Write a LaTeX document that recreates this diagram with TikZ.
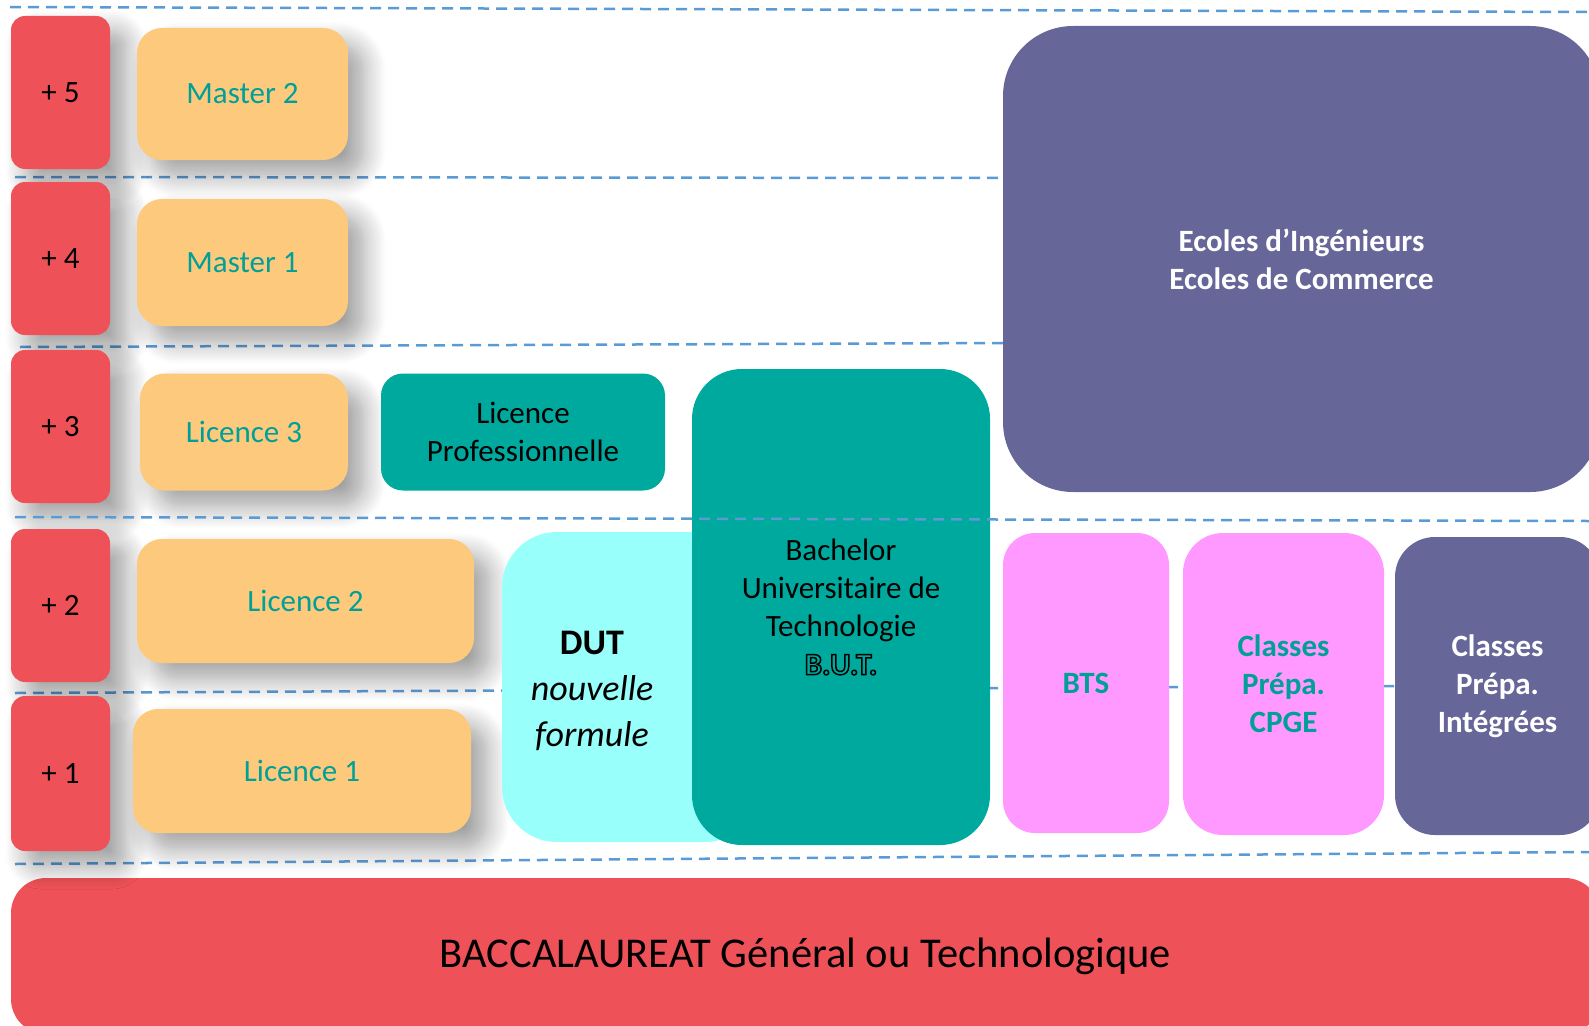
\documentclass[tikz,border=0pt]{standalone}
\usepackage{fontspec}
\setmainfont{Carlito}
\usepackage{tikz}
\usetikzlibrary{shadows.blur}

\definecolor{yearred}{RGB}{238,82,88}
\definecolor{lmdorange}{RGB}{253,201,125}
\definecolor{lmdteal}{RGB}{0,160,152}
\definecolor{butteal}{RGB}{0,169,157}
\definecolor{dutcyan}{RGB}{153,255,250}
\definecolor{ecolepurple}{RGB}{102,102,153}
\definecolor{btspink}{RGB}{255,153,255}
\definecolor{levelblue}{RGB}{91,155,213}

\newcommand{\outlined}[1]{\special{pdf:code 1 Tr 1.5 w}#1\special{pdf:code 0 Tr}}

\begin{document}
\begin{tikzpicture}[x=1pt, y=-1pt,
    every node/.style={inner sep=0pt, align=center, font=\fontsize{31}{38}\selectfont},
    level/.style={levelblue, line width=2.5pt, dash pattern=on 11pt off 7pt},
    boxshadow/.style={blur shadow={shadow xshift=16pt, shadow yshift=-16pt, shadow blur radius=22pt, shadow blur steps=14, shadow opacity=38}},
    yearbox/.style={fill=yearred, rounded corners=14pt, minimum width=99pt, boxshadow},
    lmdbox/.style={fill=lmdorange, text=lmdteal, rounded corners=25pt, boxshadow},
    tallbox/.style={font=\fontsize{31}{38}\selectfont\bfseries}]
    \clip (0,0) rectangle (1589,1025);
    \draw [level] (10,7) -- (1589,12);                                 %
    \draw [level] (15,177) -- (1003,178);                              %
    \draw [level] (20,347) -- (1003,343);                              %
    \draw [level] (15,693) -- (1589,685);                              %
    \draw [level] (15,864) -- (1589,852);                              %
    \node (bac) [fill=yearred, rounded corners=35pt, minimum width=1589pt, minimum height=156pt]
        at (805.5,956) {\fontsize{42.5}{50}\selectfont BACCALAUREAT Général ou Technologique};
    \node (y5) [yearbox, minimum height=153pt] at (60.5,92.5)  {+ 5};   % +5
    \node (y4) [yearbox, minimum height=153pt] at (60.5,258.5) {+ 4};   % +4
    \node (y3) [yearbox, minimum height=153pt] at (60.5,426.5) {+ 3};   % +3
    \node (y2) [yearbox, minimum height=153pt] at (60.5,605.5) {+ 2};   % +2
    \node (y1) [yearbox, minimum height=155pt] at (60.5,773.5) {+ 1};   % +1
    \node (m2) [lmdbox, minimum width=211pt, minimum height=132pt] at (242.5,94)  {Master 2};
    \node (m1) [lmdbox, minimum width=211pt, minimum height=127pt] at (242.5,262.5) {Master 1};
    \node (l3) [lmdbox, minimum width=208pt, minimum height=117pt] at (244,432) {Licence 3};
    \node (l2) [lmdbox, minimum width=337pt, minimum height=124pt] at (305.5,601) {Licence 2};
    \node (l1) [lmdbox, minimum width=338pt, minimum height=124pt] at (302,771)   {Licence 1};
    \node (lpro) [fill=butteal, rounded corners=22pt, minimum width=284pt, minimum height=117pt]
        at (523,432) {Licence\\Professionnelle};
    \node (dut) [fill=dutcyan, rounded corners=55pt, minimum width=258pt, minimum height=310pt] at (631,687) {};
    \node (dutlabel) [font=\fontsize{36}{46}\selectfont] at (592,691)
        {\textbf{DUT}\\\textit{nouvelle}\\\textit{formule}};
    \node (but) [fill=butteal, rounded corners=50pt, minimum width=298pt, minimum height=476pt] at (841,607)
        {Bachelor\\Universitaire de\\Technologie\\\outlined{\bfseries B.U.T.}};
    \draw [level] (15,517) -- (1589,521);                              % over B.U.T.
    \node (ecoles) [tallbox, fill=ecolepurple, text=white, rounded corners=70pt, minimum width=597pt, minimum height=466pt]
        at (1301.5,259) {Ecoles d’Ingénieurs\\Ecoles de Commerce};
    \node (bts) [tallbox, fill=btspink, text=lmdteal, rounded corners=32pt, minimum width=166pt, minimum height=300pt]
        at (1086,683) {BTS};
    \node (cpge) [tallbox, fill=btspink, text=lmdteal, rounded corners=40pt, minimum width=201pt, minimum height=302pt]
        at (1283.5,684) {Classes\\Prépa.\\CPGE};
    \node (cpi) [tallbox, fill=ecolepurple, text=white, rounded corners=40pt, minimum width=205pt, minimum height=298pt]
        at (1497.5,686) {Classes\\Prépa.\\Intégrées};
\end{tikzpicture}
\end{document}
